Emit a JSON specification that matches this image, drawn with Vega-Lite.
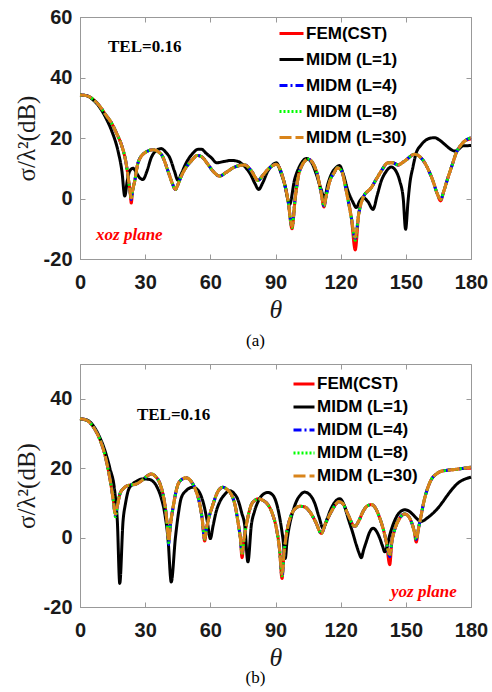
{
"$schema": "https://vega.github.io/schema/vega-lite/v6.json",
"padding": {"left": 13, "top": 6, "right": 4, "bottom": 0},
"spacing": 13,
"datasets": {
"ca": [
{"t":0,"fem":34.2,"l4":34.2,"l8":34.2,"l30":34.2},
{"t":3,"fem":34.0,"l4":34.0,"l8":34.0,"l30":34.0},
{"t":6,"fem":32.8,"l4":32.8,"l8":32.8,"l30":32.8},
{"t":9,"fem":30.6,"l4":30.6,"l8":30.6,"l30":30.6},
{"t":12,"fem":27.5,"l4":27.5,"l8":27.5,"l30":27.5},
{"t":14.4,"fem":25.1,"l4":25.1,"l8":25.1,"l30":25.1},
{"t":17,"fem":21.3,"l4":21.3,"l8":21.3,"l30":21.3},
{"t":19,"fem":17.9,"l4":17.9,"l8":17.9,"l30":17.9},
{"t":21.3,"fem":11.3,"l4":11.3,"l8":11.3,"l30":11.3},
{"t":22.4,"fem":5.8,"l4":5.8,"l8":5.8,"l30":5.8},
{"t":23.1,"fem":2,"l4":2,"l8":2,"l30":2},
{"t":23.6,"fem":-1.5,"l4":-0.3,"l8":0,"l30":0.2},
{"t":24.2,"fem":2.5,"l4":2.5,"l8":2.5,"l30":2.5},
{"t":25.2,"fem":5.8,"l4":5.8,"l8":5.8,"l30":5.8},
{"t":26.7,"fem":11.8,"l4":11.8,"l8":11.8,"l30":11.8},
{"t":29.8,"fem":15.1,"l4":15.1,"l8":15.1,"l30":15.1},
{"t":33.6,"fem":16.1,"l4":16.1,"l8":16.1,"l30":16.1},
{"t":37.4,"fem":14.6,"l4":14.6,"l8":14.6,"l30":14.6},
{"t":40.5,"fem":9.1,"l4":9.1,"l8":9.1,"l30":9.1},
{"t":42.5,"fem":5,"l4":5,"l8":5,"l30":5},
{"t":43.9,"fem":3.0,"l4":3.0,"l8":3.0,"l30":3.0},
{"t":45.3,"fem":5,"l4":5,"l8":5,"l30":5},
{"t":46.6,"fem":7.4,"l4":7.4,"l8":7.4,"l30":7.4},
{"t":49,"fem":10.5,"l4":10.5,"l8":10.5,"l30":10.5},
{"t":51.2,"fem":12.4,"l4":12.4,"l8":12.4,"l30":12.4},
{"t":54,"fem":14.2,"l4":14.2,"l8":14.2,"l30":14.2},
{"t":56,"fem":13.8,"l4":13.8,"l8":13.8,"l30":13.8},
{"t":58.9,"fem":11.3,"l4":11.3,"l8":11.3,"l30":11.3},
{"t":61.5,"fem":8.8,"l4":8.8,"l8":8.8,"l30":8.8},
{"t":64.3,"fem":7.4,"l4":7.4,"l8":7.4,"l30":7.4},
{"t":67,"fem":8.5,"l4":8.5,"l8":8.5,"l30":8.5},
{"t":71.2,"fem":10.4,"l4":10.4,"l8":10.4,"l30":10.4},
{"t":75.8,"fem":11.1,"l4":11.1,"l8":11.1,"l30":11.1},
{"t":78.9,"fem":9.1,"l4":9.1,"l8":9.1,"l30":9.1},
{"t":82,"fem":6.0,"l4":6.0,"l8":6.0,"l30":6.0},
{"t":84,"fem":7.5,"l4":7.5,"l8":7.5,"l30":7.5},
{"t":86.5,"fem":9.6,"l4":9.6,"l8":9.6,"l30":9.6},
{"t":90.4,"fem":11.3,"l4":11.3,"l8":11.3,"l30":11.3},
{"t":93.4,"fem":6.9,"l4":6.9,"l8":6.9,"l30":6.9},
{"t":95.8,"fem":-0.8,"l4":-0.8,"l8":-0.8,"l30":-0.8},
{"t":97.6,"fem":-10,"l4":-9.2,"l8":-9.6,"l30":-9.3},
{"t":99.1,"fem":0.3,"l4":0.3,"l8":0.3,"l30":0.3},
{"t":101.1,"fem":9.1,"l4":9.1,"l8":9.1,"l30":9.1},
{"t":105,"fem":13.0,"l4":13.0,"l8":13.0,"l30":13.0},
{"t":108.8,"fem":9.1,"l4":9.1,"l8":9.1,"l30":9.1},
{"t":111,"fem":2,"l4":2,"l8":2,"l30":2},
{"t":112.3,"fem":-2.8,"l4":-2.4,"l8":-2.5,"l30":-2.3},
{"t":113.5,"fem":1.5,"l4":1.5,"l8":1.5,"l30":1.5},
{"t":115,"fem":5.8,"l4":5.8,"l8":5.8,"l30":5.8},
{"t":117,"fem":8.5,"l4":8.5,"l8":8.5,"l30":8.5},
{"t":118.5,"fem":10.2,"l4":10.2,"l8":10.2,"l30":10.2},
{"t":120.5,"fem":9.0,"l4":9.0,"l8":9.0,"l30":9.0},
{"t":122.6,"fem":2.5,"l4":2.5,"l8":2.5,"l30":2.5},
{"t":124.9,"fem":-6.3,"l4":-6.3,"l8":-6.3,"l30":-6.3},
{"t":126.7,"fem":-17,"l4":-13.2,"l8":-13.8,"l30":-12.8},
{"t":128.3,"fem":-5.2,"l4":-5.2,"l8":-5.2,"l30":-5.2},
{"t":130.3,"fem":0.3,"l4":0.3,"l8":0.3,"l30":0.3},
{"t":134.1,"fem":3.6,"l4":3.6,"l8":3.6,"l30":3.6},
{"t":136.5,"fem":6.5,"l4":6.5,"l8":6.5,"l30":6.5},
{"t":138.7,"fem":9.1,"l4":9.1,"l8":9.1,"l30":9.1},
{"t":141.8,"fem":11.8,"l4":11.8,"l8":11.8,"l30":11.8},
{"t":144,"fem":11.8,"l4":11.8,"l8":11.8,"l30":11.8},
{"t":146.4,"fem":11.1,"l4":11.1,"l8":11.1,"l30":11.1},
{"t":149.5,"fem":12.4,"l4":12.4,"l8":12.4,"l30":12.4},
{"t":154.1,"fem":14.6,"l4":14.6,"l8":14.6,"l30":14.6},
{"t":156.5,"fem":13.8,"l4":13.8,"l8":13.8,"l30":13.8},
{"t":158.7,"fem":11.8,"l4":11.8,"l8":11.8,"l30":11.8},
{"t":160.7,"fem":9,"l4":9,"l8":9,"l30":9},
{"t":162.5,"fem":5.8,"l4":5.8,"l8":5.8,"l30":5.8},
{"t":164.5,"fem":1.5,"l4":1.5,"l8":1.5,"l30":1.5},
{"t":166,"fem":-0.8,"l4":-0.3,"l8":-0.3,"l30":-0.3},
{"t":167.5,"fem":2.5,"l4":2.5,"l8":2.5,"l30":2.5},
{"t":169.4,"fem":6.9,"l4":6.9,"l8":6.9,"l30":6.9},
{"t":171.3,"fem":11,"l4":11,"l8":11,"l30":11},
{"t":173.2,"fem":15.1,"l4":15.1,"l8":15.1,"l30":15.1},
{"t":175,"fem":17.3,"l4":17.3,"l8":17.3,"l30":17.3},
{"t":177.1,"fem":19,"l4":19,"l8":19,"l30":19},
{"t":180,"fem":19.7,"l4":20.1,"l8":20.1,"l30":20.1}
],
"la": [
{"t":0,"v":34.2},{"t":3,"v":34},{"t":6,"v":32.6},{"t":9,"v":30.2},{"t":12,"v":26.5},{"t":14.5,"v":22.5},{"t":17.5,"v":15.7},{"t":19.3,"v":9},{"t":20.6,"v":0.8},{"t":21.8,"v":6},{"t":22.9,"v":9.1},{"t":24.4,"v":10},{"t":26,"v":8.5},{"t":27.5,"v":6.8},{"t":29,"v":6.3},{"t":30.8,"v":9},{"t":32.8,"v":13.5},{"t":35,"v":15.8},{"t":37.4,"v":16.5},{"t":39.5,"v":15.3},{"t":41.3,"v":13.5},{"t":43.5,"v":9},{"t":45.1,"v":6},{"t":46.5,"v":8},{"t":48.9,"v":11.8},{"t":52,"v":15},{"t":54.5,"v":16.3},{"t":55.9,"v":16.3},{"t":58,"v":15},{"t":60.4,"v":13.5},{"t":63,"v":11.8},{"t":66,"v":12.2},{"t":69.7,"v":12.6},{"t":72.5,"v":12.3},{"t":75.8,"v":10.6},{"t":78.5,"v":8},{"t":80.5,"v":5},{"t":82.3,"v":3.0},{"t":84,"v":5},{"t":86.5,"v":9.1},{"t":88.5,"v":11},{"t":90.4,"v":11.8},{"t":92.5,"v":8.5},{"t":94.2,"v":4.7},{"t":96.5,"v":-1.9},{"t":98.8,"v":6.3},{"t":101,"v":10.5},{"t":104.2,"v":13.2},{"t":106.5,"v":12},{"t":108.8,"v":8},{"t":110.8,"v":3.5},{"t":112.6,"v":0.3},{"t":114,"v":4.5},{"t":115.7,"v":8},{"t":118,"v":10.3},{"t":119.5,"v":10.9},{"t":121,"v":8.5},{"t":123.4,"v":2.5},{"t":125.5,"v":-1},{"t":127.2,"v":-3},{"t":128.8,"v":-0.8},{"t":130.3,"v":0.3},{"t":132.5,"v":-1},{"t":134.9,"v":-3.6},{"t":136.8,"v":1},{"t":138.7,"v":5.8},{"t":141,"v":9},{"t":143.3,"v":10.4},{"t":145.5,"v":9},{"t":147.2,"v":5.8},{"t":148.8,"v":0},{"t":149.9,"v":-10.2},{"t":151,"v":-1},{"t":151.8,"v":4.7},{"t":153.3,"v":10.5},{"t":154.8,"v":15.1},{"t":156.8,"v":17.5},{"t":158.7,"v":19},{"t":161,"v":19.9},{"t":163.3,"v":20.1},{"t":165.5,"v":19.3},{"t":167.9,"v":17.9},{"t":170,"v":16.6},{"t":172.5,"v":15.7},{"t":174.3,"v":16.3},{"t":176.3,"v":17.4},{"t":180,"v":17.5}
],
"cb": [
{"t":0,"fem":34.2,"l4":34.2,"l8":34.2,"l30":34.2},
{"t":3,"fem":33.8,"l4":33.8,"l8":33.8,"l30":33.8},
{"t":6.8,"fem":31.2,"l4":31.2,"l8":31.2,"l30":31.2},
{"t":9,"fem":28.5,"l4":28.5,"l8":28.5,"l30":28.5},
{"t":11.4,"fem":24,"l4":24,"l8":24,"l30":24},
{"t":13.7,"fem":17.2,"l4":17.2,"l8":17.2,"l30":17.2},
{"t":15.2,"fem":11.4,"l4":11.4,"l8":11.4,"l30":11.4},
{"t":16.3,"fem":7.2,"l4":6.5,"l8":6.0,"l30":6.8},
{"t":17.3,"fem":9.5,"l4":9.5,"l8":9.5,"l30":9.5},
{"t":18.3,"fem":12.4,"l4":12.4,"l8":12.4,"l30":12.4},
{"t":19.8,"fem":14,"l4":14,"l8":14,"l30":14},
{"t":21.3,"fem":14.8,"l4":14.8,"l8":14.8,"l30":14.8},
{"t":23.5,"fem":15.2,"l4":15.2,"l8":15.2,"l30":15.2},
{"t":25.2,"fem":15.3,"l4":15.3,"l8":15.3,"l30":15.3},
{"t":27,"fem":15.8,"l4":15.8,"l8":15.8,"l30":15.8},
{"t":29,"fem":16.7,"l4":16.7,"l8":16.7,"l30":16.7},
{"t":31,"fem":17.8,"l4":17.8,"l8":17.8,"l30":17.8},
{"t":32.8,"fem":18.3,"l4":18.3,"l8":18.3,"l30":18.3},
{"t":34.8,"fem":17.6,"l4":17.6,"l8":17.6,"l30":17.6},
{"t":36.7,"fem":15.7,"l4":15.7,"l8":15.7,"l30":15.7},
{"t":38.2,"fem":12.5,"l4":12.5,"l8":12.5,"l30":12.5},
{"t":39.3,"fem":8.5,"l4":8.5,"l8":8.5,"l30":8.5},
{"t":40.1,"fem":4,"l4":4,"l8":4,"l30":4},
{"t":40.8,"fem":-1.0,"l4":-2.0,"l8":-1.5,"l30":-1.2},
{"t":41.6,"fem":3.5,"l4":3.5,"l8":3.5,"l30":3.5},
{"t":42.8,"fem":8.5,"l4":8.5,"l8":8.5,"l30":8.5},
{"t":45.1,"fem":15.3,"l4":15.3,"l8":15.3,"l30":15.3},
{"t":47,"fem":16.8,"l4":16.8,"l8":16.8,"l30":16.8},
{"t":48.9,"fem":17.2,"l4":17.2,"l8":17.2,"l30":17.2},
{"t":51,"fem":16.3,"l4":16.3,"l8":16.3,"l30":16.3},
{"t":53.5,"fem":13.3,"l4":13.3,"l8":13.3,"l30":13.3},
{"t":55,"fem":10,"l4":10,"l8":10,"l30":10},
{"t":56.2,"fem":5.6,"l4":5.6,"l8":5.6,"l30":5.6},
{"t":57.4,"fem":-1.0,"l4":-0.5,"l8":-0.5,"l30":-0.3},
{"t":58.2,"fem":2.5,"l4":2.5,"l8":2.5,"l30":2.5},
{"t":58.9,"fem":4.6,"l4":4.6,"l8":4.6,"l30":4.6},
{"t":61.2,"fem":9.5,"l4":9.5,"l8":9.5,"l30":9.5},
{"t":63.5,"fem":13.3,"l4":13.3,"l8":13.3,"l30":13.3},
{"t":65.8,"fem":14.5,"l4":14.5,"l8":14.5,"l30":14.5},
{"t":67.8,"fem":13.8,"l4":13.8,"l8":13.8,"l30":13.8},
{"t":69.7,"fem":12.4,"l4":12.4,"l8":12.4,"l30":12.4},
{"t":71.5,"fem":9,"l4":9,"l8":9,"l30":9},
{"t":72.7,"fem":4.6,"l4":4.6,"l8":4.6,"l30":4.6},
{"t":73.8,"fem":0,"l4":0,"l8":0,"l30":0},
{"t":74.6,"fem":-5.8,"l4":-4.8,"l8":-5,"l30":-4.5},
{"t":75.5,"fem":-0.5,"l4":-0.5,"l8":-0.5,"l30":-0.5},
{"t":76.6,"fem":3.7,"l4":3.7,"l8":3.7,"l30":3.7},
{"t":78.9,"fem":9.5,"l4":9.5,"l8":9.5,"l30":9.5},
{"t":80.5,"fem":10.7,"l4":10.7,"l8":10.7,"l30":10.7},
{"t":82,"fem":11.2,"l4":11.2,"l8":11.2,"l30":11.2},
{"t":84,"fem":10.8,"l4":10.8,"l8":10.8,"l30":10.8},
{"t":86.5,"fem":9.5,"l4":9.5,"l8":9.5,"l30":9.5},
{"t":88.5,"fem":7,"l4":7,"l8":7,"l30":7},
{"t":90.4,"fem":2.7,"l4":2.7,"l8":2.7,"l30":2.7},
{"t":91.8,"fem":-3,"l4":-3,"l8":-3,"l30":-3},
{"t":93,"fem":-11.8,"l4":-11,"l8":-11,"l30":-10.5},
{"t":94,"fem":-4,"l4":-4,"l8":-4,"l30":-4},
{"t":95,"fem":0.8,"l4":0.8,"l8":0.8,"l30":0.8},
{"t":97.3,"fem":6.6,"l4":6.6,"l8":6.6,"l30":6.6},
{"t":99,"fem":8.3,"l4":8.3,"l8":8.3,"l30":8.3},
{"t":101.1,"fem":9.0,"l4":9.0,"l8":9.0,"l30":9.0},
{"t":103.5,"fem":8.8,"l4":8.8,"l8":8.8,"l30":8.8},
{"t":105.7,"fem":7.5,"l4":7.5,"l8":7.5,"l30":7.5},
{"t":108.5,"fem":4.5,"l4":4.5,"l8":4.5,"l30":4.5},
{"t":111.1,"fem":1.2,"l4":1.2,"l8":1.2,"l30":1.2},
{"t":113,"fem":4,"l4":4,"l8":4,"l30":4},
{"t":115.7,"fem":7.5,"l4":7.5,"l8":7.5,"l30":7.5},
{"t":118,"fem":9.8,"l4":9.8,"l8":9.8,"l30":9.8},
{"t":119,"fem":10.4,"l4":10.4,"l8":10.4,"l30":10.4},
{"t":121,"fem":9.8,"l4":9.8,"l8":9.8,"l30":9.8},
{"t":123.4,"fem":6.6,"l4":6.6,"l8":6.6,"l30":6.6},
{"t":126.5,"fem":3.2,"l4":3.2,"l8":3.2,"l30":3.2},
{"t":128.5,"fem":5,"l4":5,"l8":5,"l30":5},
{"t":130.3,"fem":7.5,"l4":7.5,"l8":7.5,"l30":7.5},
{"t":132,"fem":9,"l4":9,"l8":9,"l30":9},
{"t":134.1,"fem":9.5,"l4":9.5,"l8":9.5,"l30":9.5},
{"t":136,"fem":8.5,"l4":8.5,"l8":8.5,"l30":8.5},
{"t":138,"fem":5.6,"l4":5.6,"l8":5.6,"l30":5.6},
{"t":139.8,"fem":2,"l4":2,"l8":2,"l30":2},
{"t":141,"fem":-1.2,"l4":-1.2,"l8":-1.2,"l30":-1.2},
{"t":142.6,"fem":-7.8,"l4":-5.5,"l8":-5.2,"l30":-4.8},
{"t":143.6,"fem":-1,"l4":-1,"l8":-1,"l30":-1},
{"t":144.6,"fem":1.7,"l4":1.7,"l8":1.7,"l30":1.7},
{"t":147.2,"fem":5.6,"l4":5.6,"l8":5.6,"l30":5.6},
{"t":149.5,"fem":6.8,"l4":6.8,"l8":6.8,"l30":6.8},
{"t":151,"fem":6.3,"l4":6.3,"l8":6.3,"l30":6.3},
{"t":152.5,"fem":4.6,"l4":4.6,"l8":4.6,"l30":4.6},
{"t":153.8,"fem":2,"l4":2,"l8":2,"l30":2},
{"t":154.8,"fem":-1.3,"l4":-0.5,"l8":-0.5,"l30":-0.3},
{"t":155.8,"fem":2.5,"l4":2.5,"l8":2.5,"l30":2.5},
{"t":156.8,"fem":5.6,"l4":5.6,"l8":5.6,"l30":5.6},
{"t":158.7,"fem":11.4,"l4":11.4,"l8":11.4,"l30":11.4},
{"t":160.2,"fem":14.5,"l4":14.5,"l8":14.5,"l30":14.5},
{"t":161.7,"fem":16.7,"l4":16.7,"l8":16.7,"l30":16.7},
{"t":164,"fem":18.3,"l4":18.3,"l8":18.3,"l30":18.3},
{"t":166.3,"fem":19.1,"l4":19.1,"l8":19.1,"l30":19.1},
{"t":169,"fem":19.4,"l4":19.4,"l8":19.4,"l30":19.4},
{"t":172.5,"fem":19.6,"l4":19.6,"l8":19.6,"l30":19.6},
{"t":176,"fem":19.9,"l4":19.9,"l8":19.9,"l30":19.9},
{"t":180,"fem":20.0,"l4":20.3,"l8":20.3,"l30":20.3}
],
"lb": [
{"t":0,"v":34.2},{"t":3,"v":33.9},{"t":6.8,"v":31.6},{"t":9,"v":29},{"t":11.4,"v":25.2},{"t":13.7,"v":20.1},{"t":16,"v":13.3},{"t":17.2,"v":4.6},{"t":18.3,"v":-13.2},{"t":19.8,"v":4.6},{"t":21,"v":10},{"t":22.1,"v":13.3},{"t":24,"v":15.3},{"t":25.9,"v":16.2},{"t":29,"v":16.9},{"t":31.5,"v":16.8},{"t":33.6,"v":16.2},{"t":35.5,"v":14.5},{"t":37.4,"v":11.4},{"t":39,"v":7},{"t":40.5,"v":-0.2},{"t":42,"v":-12.8},{"t":43.9,"v":-0.2},{"t":45.2,"v":6.5},{"t":46.6,"v":11.4},{"t":49,"v":13.6},{"t":52,"v":14.5},{"t":54.5,"v":13.5},{"t":56.6,"v":10.4},{"t":58.5,"v":5},{"t":60,"v":-0.3},{"t":61.3,"v":3.5},{"t":62.7,"v":7.5},{"t":64.5,"v":10.5},{"t":66.6,"v":12.4},{"t":68.9,"v":13.5},{"t":70.8,"v":12.8},{"t":72.7,"v":10.9},{"t":74.5,"v":7},{"t":75.8,"v":3.7},{"t":77.3,"v":-7},{"t":78.9,"v":3.7},{"t":80.3,"v":7.5},{"t":82,"v":10.4},{"t":84,"v":12.3},{"t":86.5,"v":13},{"t":88.5,"v":12.4},{"t":90.4,"v":10},{"t":92,"v":5.5},{"t":93.4,"v":-0.2},{"t":94.5,"v":-6},{"t":95.3,"v":-1},{"t":96.5,"v":3.7},{"t":98,"v":7.5},{"t":99.6,"v":10.4},{"t":101.5,"v":12.3},{"t":103.4,"v":13.1},{"t":105.5,"v":12.5},{"t":108,"v":10},{"t":110,"v":6},{"t":111.9,"v":2.7},{"t":113.8,"v":5.5},{"t":115.7,"v":8.5},{"t":117.7,"v":10.5},{"t":119.6,"v":11.2},{"t":121.5,"v":9.5},{"t":123.4,"v":5.6},{"t":125.5,"v":1.5},{"t":127.2,"v":-2.1},{"t":128.5,"v":-4.5},{"t":129.5,"v":-5.8},{"t":130.6,"v":-3.5},{"t":131.8,"v":-1.2},{"t":133.3,"v":1.5},{"t":134.9,"v":2.7},{"t":136.5,"v":1.8},{"t":138,"v":-0.2},{"t":139.3,"v":-2.5},{"t":140.3,"v":-4.1},{"t":141.2,"v":-3},{"t":142.5,"v":0.5},{"t":144.1,"v":3.7},{"t":147.2,"v":7.3},{"t":149.5,"v":8.0},{"t":151.5,"v":7.6},{"t":153.3,"v":6.6},{"t":155,"v":5.5},{"t":156.8,"v":4.6},{"t":158.5,"v":5},{"t":160.2,"v":5.8},{"t":162.5,"v":7},{"t":164.8,"v":8.5},{"t":167,"v":10.3},{"t":169.4,"v":12.4},{"t":171.8,"v":14.3},{"t":174,"v":15.7},{"t":177,"v":16.8},{"t":180,"v":17.4}
]
},
"vconcat": [
{
"width": 391, "height": 242,
"title": {"text": "(a)", "orient": "bottom", "dx": -20, "offset": 11},
"resolve": {"axis": {"x": "independent", "y": "independent"}},
"layer": [
{"layer": [
{"data": {"name": "ca"}, "mark": "line", "encoding": {
"x": {"field": "t", "type": "quantitative", "scale": {"domain": [0, 180], "nice": false}, "axis": {"values": [0, 30, 60, 90, 120, 150, 180]}, "title": "θ"},
"y": {"field": "fem", "type": "quantitative", "scale": {"domain": [-20, 60], "nice": false}, "axis": {"values": [-20, 0, 20, 40, 60]}, "title": "σ/λ²(dB)"},
"color": {"datum": "FEM(CST)", "type": "nominal", "scale": {"domain": ["FEM(CST)", "MIDM (L=1)", "MIDM (L=4)", "MIDM (L=8)", "MIDM (L=30)"], "range": ["#ff0000", "#000000", "#0000ff", "#00ff00", "#d9841a"]}, "legend": {"title": null, "legendX": 198, "legendY": 3, "symbolSize": 576, "rowPadding": 4}},
"strokeDash": {"datum": "FEM(CST)", "type": "nominal", "scale": {"domain": ["FEM(CST)", "MIDM (L=1)", "MIDM (L=4)", "MIDM (L=8)", "MIDM (L=30)"], "range": [[1, 0], [1, 0], [8, 3, 2, 3], [2, 2], [12, 4]]}, "legend": {"title": null, "legendX": 198, "legendY": 3, "symbolSize": 576, "rowPadding": 4}}
}},
{"data": {"name": "la"}, "mark": "line", "encoding": {
"x": {"field": "t", "type": "quantitative", "title": "θ"},
"y": {"field": "v", "type": "quantitative", "title": "σ/λ²(dB)"},
"color": {"datum": "MIDM (L=1)", "type": "nominal"},
"strokeDash": {"datum": "MIDM (L=1)", "type": "nominal"}
}},
{"data": {"name": "ca"}, "mark": "line", "encoding": {
"x": {"field": "t", "type": "quantitative", "title": "θ"},
"y": {"field": "l4", "type": "quantitative", "title": "σ/λ²(dB)"},
"color": {"datum": "MIDM (L=4)", "type": "nominal"},
"strokeDash": {"datum": "MIDM (L=4)", "type": "nominal"}
}},
{"data": {"name": "ca"}, "mark": "line", "encoding": {
"x": {"field": "t", "type": "quantitative", "title": "θ"},
"y": {"field": "l8", "type": "quantitative", "title": "σ/λ²(dB)"},
"color": {"datum": "MIDM (L=8)", "type": "nominal"},
"strokeDash": {"datum": "MIDM (L=8)", "type": "nominal"}
}},
{"data": {"name": "ca"}, "mark": "line", "encoding": {
"x": {"field": "t", "type": "quantitative", "title": "θ"},
"y": {"field": "l30", "type": "quantitative", "title": "σ/λ²(dB)"},
"color": {"datum": "MIDM (L=30)", "type": "nominal"},
"strokeDash": {"datum": "MIDM (L=30)", "type": "nominal"}
}},
{"data": {"values": [{}]}, "mark": {"type": "text", "text": "TEL=0.16", "font": "Liberation Serif", "fontWeight": "bold", "fontSize": 17, "align": "left", "baseline": "middle", "color": "#000000"},
"encoding": {"x": {"datum": 12.9, "type": "quantitative"}, "y": {"datum": 50.1, "type": "quantitative"}}},
{"data": {"values": [{}]}, "mark": {"type": "text", "text": "xoz plane", "font": "Liberation Serif", "fontWeight": "bold", "fontStyle": "italic", "fontSize": 17, "align": "left", "baseline": "middle", "color": "#ff0000"},
"encoding": {"x": {"datum": 7.4, "type": "quantitative"}, "y": {"datum": -12.1, "type": "quantitative"}}}
]},
{"data": {"values": [{}]}, "mark": {"type": "point", "opacity": 0},
"encoding": {
"x": {"datum": 0, "type": "quantitative", "axis": {"orient": "top", "values": [0, 30, 60, 90, 120, 150, 180], "labels": false, "domain": false, "title": null}},
"y": {"datum": 0, "type": "quantitative", "axis": {"orient": "right", "values": [-20, 0, 20, 40, 60], "labels": false, "domain": false, "title": null}}
}}
]
},
{
"width": 391, "height": 243,
"title": {"text": "(b)", "orient": "bottom", "dx": -20, "offset": 0},
"resolve": {"axis": {"x": "independent", "y": "independent"}},
"layer": [
{"layer": [
{"data": {"name": "cb"}, "mark": "line", "encoding": {
"x": {"field": "t", "type": "quantitative", "scale": {"domain": [0, 180], "nice": false}, "axis": {"values": [0, 30, 60, 90, 120, 150, 180]}, "title": "θ"},
"y": {"field": "fem", "type": "quantitative", "scale": {"domain": [-20, 50], "nice": false}, "axis": {"values": [-20, 0, 20, 40]}, "title": "σ/λ²(dB)"},
"color": {"datum": "FEM(CST)", "type": "nominal", "scale": {"domain": ["FEM(CST)", "MIDM (L=1)", "MIDM (L=4)", "MIDM (L=8)", "MIDM (L=30)"], "range": ["#ff0000", "#000000", "#0000ff", "#00ff00", "#d9841a"]}, "legend": {"title": null, "legendX": 212, "legendY": 8, "symbolSize": 441, "rowPadding": 3}},
"strokeDash": {"datum": "FEM(CST)", "type": "nominal", "scale": {"domain": ["FEM(CST)", "MIDM (L=1)", "MIDM (L=4)", "MIDM (L=8)", "MIDM (L=30)"], "range": [[1, 0], [1, 0], [8, 3, 2, 3], [2, 2], [12, 4]]}, "legend": {"title": null, "legendX": 212, "legendY": 8, "symbolSize": 441, "rowPadding": 3}}
}},
{"data": {"name": "lb"}, "mark": "line", "encoding": {
"x": {"field": "t", "type": "quantitative", "title": "θ"},
"y": {"field": "v", "type": "quantitative", "title": "σ/λ²(dB)"},
"color": {"datum": "MIDM (L=1)", "type": "nominal"},
"strokeDash": {"datum": "MIDM (L=1)", "type": "nominal"}
}},
{"data": {"name": "cb"}, "mark": "line", "encoding": {
"x": {"field": "t", "type": "quantitative", "title": "θ"},
"y": {"field": "l4", "type": "quantitative", "title": "σ/λ²(dB)"},
"color": {"datum": "MIDM (L=4)", "type": "nominal"},
"strokeDash": {"datum": "MIDM (L=4)", "type": "nominal"}
}},
{"data": {"name": "cb"}, "mark": "line", "encoding": {
"x": {"field": "t", "type": "quantitative", "title": "θ"},
"y": {"field": "l8", "type": "quantitative", "title": "σ/λ²(dB)"},
"color": {"datum": "MIDM (L=8)", "type": "nominal"},
"strokeDash": {"datum": "MIDM (L=8)", "type": "nominal"}
}},
{"data": {"name": "cb"}, "mark": "line", "encoding": {
"x": {"field": "t", "type": "quantitative", "title": "θ"},
"y": {"field": "l30", "type": "quantitative", "title": "σ/λ²(dB)"},
"color": {"datum": "MIDM (L=30)", "type": "nominal"},
"strokeDash": {"datum": "MIDM (L=30)", "type": "nominal"}
}},
{"data": {"values": [{}]}, "mark": {"type": "text", "text": "TEL=0.16", "font": "Liberation Serif", "fontWeight": "bold", "fontSize": 17, "align": "left", "baseline": "middle", "color": "#000000"},
"encoding": {"x": {"datum": 26.2, "type": "quantitative"}, "y": {"datum": 35.4, "type": "quantitative"}}},
{"data": {"values": [{}]}, "mark": {"type": "text", "text": "yoz plane", "font": "Liberation Serif", "fontWeight": "bold", "fontStyle": "italic", "fontSize": 17, "align": "left", "baseline": "middle", "color": "#ff0000"},
"encoding": {"x": {"datum": 143.2, "type": "quantitative"}, "y": {"datum": -15.7, "type": "quantitative"}}}
]},
{"data": {"values": [{}]}, "mark": {"type": "point", "opacity": 0},
"encoding": {
"x": {"datum": 0, "type": "quantitative", "axis": {"orient": "top", "values": [0, 30, 60, 90, 120, 150, 180], "labels": false, "domain": false, "title": null}},
"y": {"datum": 0, "type": "quantitative", "axis": {"orient": "right", "values": [-20, 0, 20, 40], "labels": false, "domain": false, "title": null}}
}}
]
}
],
"resolve": {"scale": {"color": "independent", "strokeDash": "independent", "x": "independent", "y": "independent"}, "legend": {"color": "independent", "strokeDash": "independent"}},
"config": {
"view": {"stroke": "#999999", "strokeWidth": 1},
"line": {"strokeWidth": 3, "interpolate": "monotone"},
"axis": {"labelFont": "Liberation Sans", "labelFontWeight": "bold", "labelFontSize": 20, "labelColor": "#1a1a1a", "domainColor": "#999999", "tickColor": "#999999", "tickSize": -5, "grid": false, "labelFlush": false, "labelOverlap": false, "titleFont": "Liberation Serif", "titleFontWeight": "normal", "titleColor": "#1a1a1a", "labelExpr": "replace(datum.label, '−', '-')"},
"axisX": {"labelPadding": 18, "titleFontSize": 26, "titleFontStyle": "italic", "titlePadding": 4},
"axisY": {"labelPadding": 13, "titleFontSize": 25, "titlePadding": 4},
"legend": {"orient": "none", "symbolType": "stroke", "labelFont": "Liberation Sans", "labelFontWeight": "bold", "labelFontSize": 17, "labelColor": "#000000", "symbolStrokeWidth": 3, "labelOffset": 1, "padding": 0},
"title": {"font": "Liberation Serif", "fontSize": 17, "fontWeight": "normal", "color": "#000000"}
}
}
